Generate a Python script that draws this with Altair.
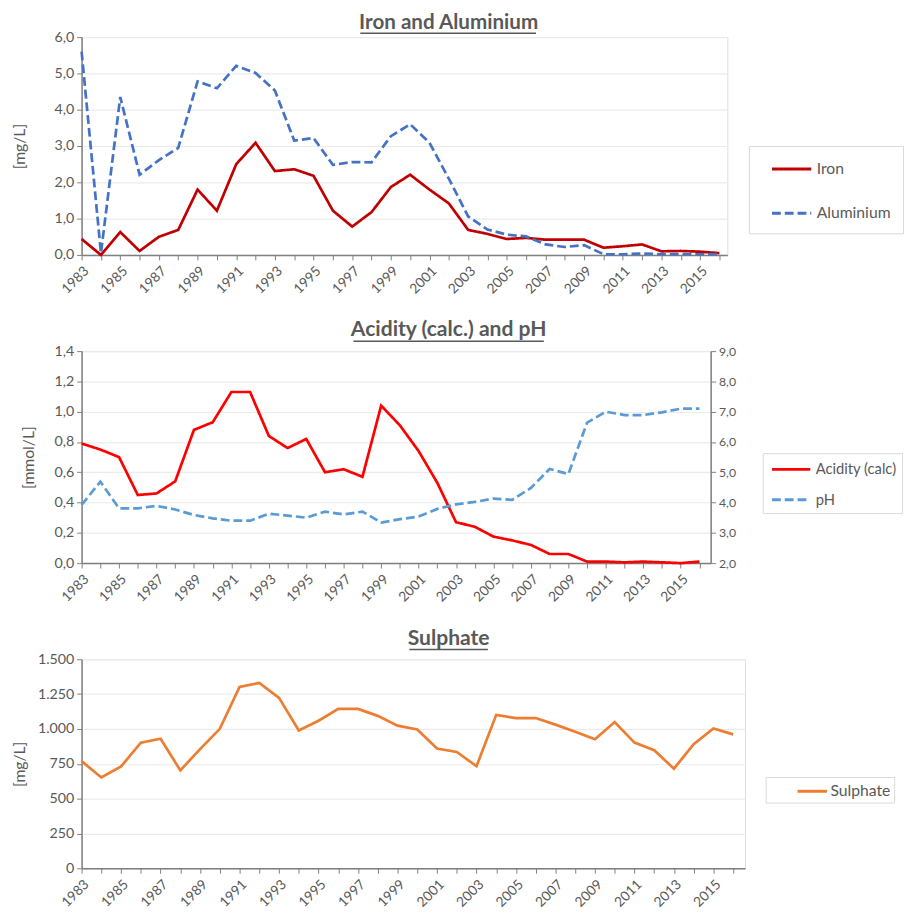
import altair as alt
import pandas as pd

years = list(range(1983, 2017))

iron = [0.44, 0.00, 0.63, 0.11, 0.50, 0.69, 1.80, 1.22, 2.50, 3.09,
        2.31, 2.36, 2.18, 1.22, 0.78, 1.18, 1.87, 2.21, 1.80, 1.42,
        0.69, 0.58, 0.44, 0.47, 0.42, 0.42, 0.42, 0.20, 0.24, 0.29,
        0.10, 0.11, 0.09, 0.05]
aluminium = [5.60, 0.05, 4.35, 2.21, 2.61, 2.95, 4.78, 4.59, 5.21, 5.01,
             4.53, 3.15, 3.22, 2.48, 2.56, 2.55, 3.27, 3.60, 3.09, 2.10,
             1.06, 0.70, 0.56, 0.51, 0.29, 0.22, 0.27, 0.02, 0.02, 0.04,
             0.02, 0.02, 0.02, 0.02]
acidity = [0.79, 0.75, 0.70, 0.45, 0.46, 0.54, 0.88, 0.93, 1.13, 1.13,
           0.84, 0.76, 0.82, 0.60, 0.62, 0.57, 1.04, 0.91, 0.74, 0.53,
           0.27, 0.24, 0.175, 0.15, 0.12, 0.06, 0.06, 0.01, 0.01, 0.005,
           0.01, 0.005, 0.0, 0.01]
ph = [3.92, 4.69, 3.81, 3.81, 3.89, 3.77, 3.59, 3.48, 3.40, 3.40,
      3.63, 3.57, 3.50, 3.70, 3.61, 3.70, 3.34, 3.45, 3.54, 3.79,
      3.94, 4.02, 4.13, 4.09, 4.48, 5.11, 4.94, 6.64, 7.00, 6.89,
      6.89, 6.98, 7.10, 7.10]
sulphate = [769, 652, 731, 902, 930, 703, 855, 1001, 1301, 1331,
            1223, 989, 1059, 1144, 1144, 1094, 1024, 996, 860, 835,
            733, 1101, 1078, 1078, 1031, 980, 926, 1050, 902, 848,
            715, 891, 1003, 961]

titles = ["Iron and Aluminium", "Acidity (calc.) and pH", "Sulphate"]

FONT = "Lato"
GRAY = "#595959"
AXC = "#7f7f7f"
GRID = "#ebebeb"

df1 = pd.DataFrame({"year": years * 2,
                    "value": iron + aluminium,
                    "series": ["Iron"] * len(years) + ["Aluminium"] * len(years)})
df_acid = pd.DataFrame({"year": years, "value": acidity, "series": "Acidity (calc)"})
df_ph = pd.DataFrame({"year": years, "value": ph, "series": "pH"})
df3 = pd.DataFrame({"year": years, "value": sulphate, "series": "Sulphate"})
one = pd.DataFrame({"k": [0]})


def xaxis():
    return alt.Axis(values=years, title=None, grid=False,
                    labelExpr="datum.value % 2 == 1 ? '' + datum.value : ''",
                    labelAngle=-45, labelOverlap=False, labelFontSize=14,
                    labelColor=GRAY, labelFont=FONT, tickSize=5, labelPadding=4,
                    domainColor=AXC, tickColor=AXC, domainWidth=1.5)


def yaxis(values, fmt, expr, title, titleX, grid=True, orient="left", size=14.5):
    if title:
        kw = dict(title=title, titleX=titleX, titleFontWeight="normal",
                  titleFontSize=16, titleColor=GRAY, titleFont=FONT)
    else:
        kw = dict(title=None)
    return alt.Axis(values=values, format=fmt, labelExpr=expr, orient=orient,
                    grid=grid, gridColor=GRID, gridWidth=1.2,
                    labelFontSize=size, labelColor=GRAY, labelFont=FONT,
                    tickSize=5, labelPadding=3, domainColor=AXC, tickColor=AXC,
                    domainWidth=1.5, **kw)


def legend(x, y, rowpad, pad, lead, length, gap, fsize):
    # stroke symbol drawn as a path inside a 20px entry box
    a = (lead - 10) / 10.0
    b = (lead + length - 10) / 10.0
    path = "M%.2f,0H%.2f" % (a, b)
    return alt.Legend(title=None, orient="none", legendX=x, legendY=y,
                      symbolType=path, symbolSize=400, symbolStrokeWidth=3,
                      labelFontSize=fsize, labelColor=GRAY, labelFont=FONT,
                      labelOffset=lead + length + gap - 20, rowPadding=rowpad,
                      padding=pad, strokeColor="#d9d9d9", fillColor="white")


def title_layers(text, cx, ybase, x1, x2, yline, fsize):
    t = alt.Chart(pd.DataFrame({"t": [text]})).mark_text(
        fontSize=fsize, fontWeight="bold", color=GRAY, font=FONT,
        align="center", baseline="alphabetic").encode(
        text="t:N", x=alt.value(cx), y=alt.value(ybase))
    u = alt.Chart(one).mark_rule(color=GRAY, strokeWidth=1.5).encode(
        x=alt.value(x1), x2=alt.value(x2), y=alt.value(yline))
    return [t, u]


# Panel 1 -- plot (79..737)
O1 = 79
W1, H1 = 658, 222
lg1 = legend(748 - O1 + 11, 145 - 34, 25, 12, 10, 40, 4, 16)
line1 = alt.Chart(df1).mark_line(strokeWidth=2.75).encode(
    x=alt.X("year:Q", scale=alt.Scale(domain=[1983, 2016.41], nice=False, zero=False),
            axis=xaxis()),
    y=alt.Y("value:Q", scale=alt.Scale(domain=[0, 6], nice=False),
            axis=yaxis([0, 1, 2, 3, 4, 5, 6], ".1f", "replace(datum.label, '.', ',')",
                       "[mg/L]", -55)),
    color=alt.Color("series:N", scale=alt.Scale(domain=["Iron", "Aluminium"],
                                                range=["#c00000", "#4472c4"]), legend=lg1),
    strokeDash=alt.StrokeDash("series:N", scale=alt.Scale(domain=["Iron", "Aluminium"],
                                                          range=[[1, 0], [9, 4]]), legend=lg1),
)
p1 = alt.layer(line1, *title_layers(titles[0], 453 - O1, -8, 363 - O1, 542 - O1, -4, 21)
               ).properties(width=W1, height=H1)

# Panel 2 -- plot (79..720)
O2 = 79
W2, H2 = 641, 216
lg2 = legend(770 - O2 + 3, 454 - 350, 11, 5, 3, 39, 4, 15)
sdom = ["Acidity (calc)", "pH"]
cscale = alt.Scale(domain=sdom, range=["#ff0000", "#5b9bd5"])
dscale = alt.Scale(domain=sdom, range=[[1, 0], [9, 4]])
xenc2 = alt.X("year:Q", scale=alt.Scale(domain=[1983, 2016.6], nice=False, zero=False), axis=xaxis())
acid_line = alt.Chart(df_acid).mark_line(strokeWidth=2.75).encode(
    x=xenc2,
    y=alt.Y("value:Q", scale=alt.Scale(domain=[0, 1.4], nice=False),
            axis=yaxis([0, 0.2, 0.4, 0.6, 0.8, 1.0, 1.2, 1.4], ".1f",
                       "replace(datum.label, '.', ',')", "[mmol/L]", -46)),
    color=alt.Color("series:N", scale=cscale, legend=lg2),
    strokeDash=alt.StrokeDash("series:N", scale=dscale, legend=lg2),
)
ph_line = alt.Chart(df_ph).mark_line(strokeWidth=2.75).encode(
    x=xenc2,
    y=alt.Y("value:Q", scale=alt.Scale(domain=[2, 9], nice=False, zero=False),
            axis=yaxis([2, 3, 4, 5, 6, 7, 8, 9], ".1f", "replace(datum.label, '.', ',')",
                       None, 0, grid=False, orient="right", size=12.5)),
    color=alt.Color("series:N", scale=cscale, legend=lg2),
    strokeDash=alt.StrokeDash("series:N", scale=dscale, legend=lg2),
)
p2 = alt.layer(acid_line, ph_line,
               *title_layers(titles[1], 453 - O2, -15, 356 - O2, 550 - O2, -10, 21.5)
               ).resolve_scale(y="independent").properties(width=W2, height=H2)

# Panel 3 -- plot (79..755)
O3 = 79
W3, H3 = 676, 213
lg3 = legend(767 - O3 + 9, 780 - 660, 3, 3, 28, 30, 2, 16)
line3 = alt.Chart(df3).mark_line(strokeWidth=2.75).encode(
    x=alt.X("year:Q", scale=alt.Scale(domain=[1983, 2016.6], nice=False, zero=False), axis=xaxis()),
    y=alt.Y("value:Q", scale=alt.Scale(domain=[0, 1500], nice=False),
            axis=yaxis([0, 250, 500, 750, 1000, 1250, 1500], ",d",
                       "replace(datum.label, ',', '.')", "[mg/L]", -55)),
    color=alt.Color("series:N", scale=alt.Scale(domain=["Sulphate"], range=["#ed7d31"]),
                    legend=lg3),
)
p3 = alt.layer(line3, *title_layers(titles[2], 453 - O3, -15, 413 - O3, 493 - O3, -10, 21.5)
               ).properties(width=W3, height=H3)

chart = alt.vconcat(p1, p2, p3, spacing=22).resolve_scale(
    color="independent", strokeDash="independent", x="independent"
).properties(padding={"left": 3, "top": -5, "right": 0, "bottom": 0}
             ).configure_view(stroke=None).configure(font=FONT, background="white")

chart.save("out.html", embed_options={"renderer": "svg", "actions": False})
